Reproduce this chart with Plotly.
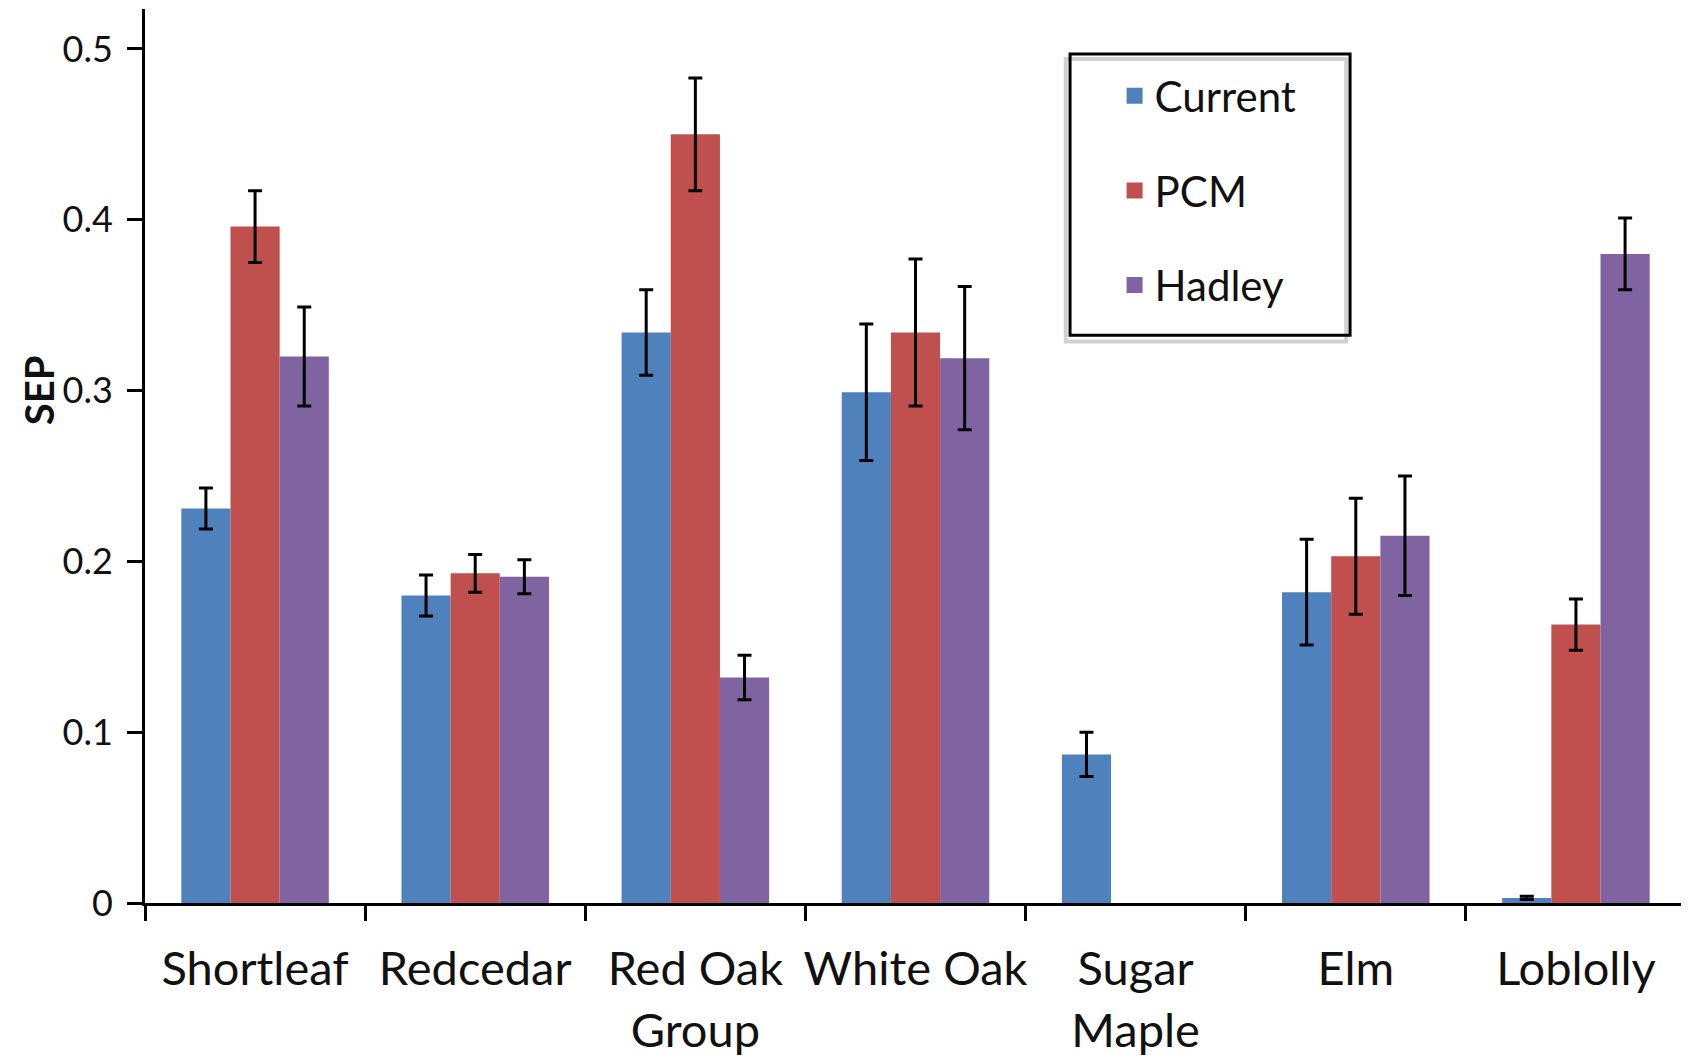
import plotly.graph_objects as go

categories = ["Shortleaf", "Redcedar", "Red Oak<br>Group", "White Oak", "Sugar<br>Maple", "Elm", "Loblolly"]

current = [0.231, 0.180, 0.334, 0.299, 0.087, 0.182, 0.003]
current_err = [0.012, 0.012, 0.025, 0.040, 0.013, 0.031, 0.001]

pcm = [0.396, 0.193, 0.450, 0.334, None, 0.203, 0.163]
pcm_err = [0.021, 0.011, 0.033, 0.043, None, 0.034, 0.015]

hadley = [0.320, 0.191, 0.132, 0.319, None, 0.215, 0.380]
hadley_err = [0.029, 0.010, 0.013, 0.042, None, 0.035, 0.021]

series = [
    ("Current", current, current_err, "#4F81BD"),
    ("PCM", pcm, pcm_err, "#C0504D"),
    ("Hadley", hadley, hadley_err, "#8064A2"),
]

FONT = "Lato, 'Liberation Sans', sans-serif"

fig = go.Figure()
for name, vals, errs, color in series:
    fig.add_trace(go.Bar(
        name=name,
        x=categories,
        y=vals,
        marker=dict(color=color, line=dict(width=0)),
        legendgroup=name,
        showlegend=False,
        error_y=dict(type="data", array=errs, visible=True,
                     color="black", thickness=3, width=7),
    ))
    # legend entry with a larger square swatch
    fig.add_trace(go.Scatter(
        name=name, x=[None], y=[None], mode="markers",
        marker=dict(symbol="square", size=24, color=color),
        legendgroup=name, showlegend=True, hoverinfo="skip",
    ))

# page body has an 8px margin: figure sits at (8, 8)
fig.update_layout(
    width=1681, height=1051,
    margin=dict(l=137, r=3, t=1, b=156),
    paper_bgcolor="white", plot_bgcolor="white",
    barmode="group", bargap=0.33, bargroupgap=0,
    font=dict(family=FONT, color="#111111"),
    showlegend=True,
    legend=dict(
        x=0.600, y=0.9407, xanchor="left", yanchor="top",
        borderwidth=0, bgcolor="rgba(0,0,0,0)",
        font=dict(size=42, family=FONT, color="#111111"),
        tracegroupgap=37,
        indentation=45,
        itemwidth=30,
        itemsizing="trace",
    ),
)

# legend frame (with a soft shadow)
fig.add_shape(type="rect", xref="paper", yref="paper",
              x0=0.5975, x1=0.7795, y0=0.628, y1=0.944,
              line=dict(color="rgba(0,0,0,0.18)", width=4), fillcolor="rgba(0,0,0,0)",
              layer="above")
fig.add_shape(type="rect", xref="paper", yref="paper",
              x0=0.6003, x1=0.782, y0=0.635, y1=0.9497,
              line=dict(color="black", width=3), fillcolor="rgba(0,0,0,0)",
              layer="above")

fig.update_xaxes(
    type="category",
    range=[-0.5, 6.5],
    showline=True, linecolor="black", linewidth=3,
    ticks="outside", tickson="boundaries", ticklen=15, tickwidth=3, tickcolor="black",
    tickfont=dict(size=47, family=FONT, color="#111111"),
    tickangle=0,
    ticklabelstandoff=23,
    showgrid=False, zeroline=False,
    automargin=False,
)
fig.update_yaxes(
    range=[0, 0.5234],
    dtick=0.1, tick0=0,
    showline=True, linecolor="black", linewidth=3,
    ticks="outside", ticklen=15, tickwidth=3, tickcolor="black",
    tickfont=dict(size=36, family=FONT, color="#111111"),
    ticklabelstandoff=7,
    showgrid=False, zeroline=False,
    automargin=False,
)

fig.add_annotation(
    text="<b>SEP</b>", textangle=-90,
    xref="paper", yref="y", x=-0.069, y=0.30,
    xanchor="center", yanchor="middle", showarrow=False,
    font=dict(size=40, family=FONT, color="#111111"),
)

fig.write_html("out.html")
